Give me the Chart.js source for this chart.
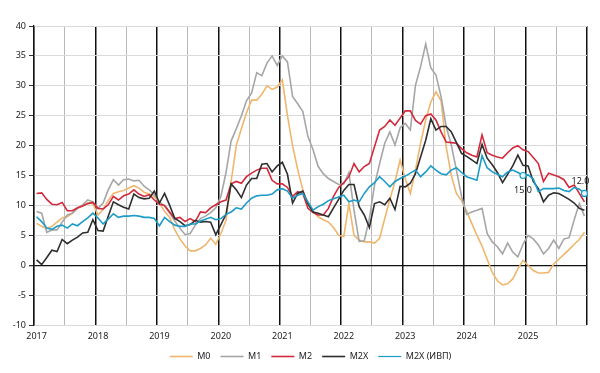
<!DOCTYPE html>
<html>
<head>
<meta charset="utf-8">
<script src="https://cdn.jsdelivr.net/npm/chart.js@4"></script>
<style>
  html, body { margin: 0; padding: 0; background: #fff; }
  #wrap { width: 600px; height: 373px; }
</style>
</head>
<body>
<div id="wrap"><canvas id="chart"></canvas></div>
<script>
// Monthly series, Jan 2017 - Dec 2025, % y/y
const years = [2017, 2018, 2019, 2020, 2021, 2022, 2023, 2024, 2025];
const yTicks = [-10, -5, 0, 5, 10, 15, 20, 25, 30, 35, 40];

const m0 = [
    7.0, 6.5, 6.1, 6.5, 7.2, 7.9, 8.1, 8.7, 9.5, 9.9, 10.4, 10.3,
    8.4, 9.3, 10.8, 12.0, 12.3, 12.5, 12.9, 13.3, 12.9, 12.2, 11.9, 11.5,
    10.3, 9.0, 8.0, 5.9, 4.4, 3.2, 2.4, 2.4, 2.8, 3.4, 4.5, 3.5,
    5.3, 7.5, 14.0, 20.0, 22.8, 25.5, 27.6, 27.6, 28.6, 30.0, 29.4, 29.8,
    31.0, 25.0, 20.0, 16.0, 12.6, 10.0, 9.0, 8.1, 7.6, 7.2, 6.3, 5.0,
    4.8, 10.3, 5.0, 4.2, 3.9, 3.9, 3.7, 4.5, 7.8, 11.0, 14.0, 17.6,
    14.5, 12.0, 15.9, 20.4, 24.3, 27.3, 29.0, 27.5, 19.8, 15.0, 12.0, 10.8,
    9.0, 7.0, 5.0, 3.2, 1.0, -1.2, -2.6, -3.3, -3.1, -2.3, -0.6, 0.8,
    0.0, -0.9, -1.3, -1.3, -1.2, 0.2, 1.0, 1.8, 2.6, 3.5, 4.3, 5.5,
];
const m1 = [
    9.0, 8.7, 5.5, 5.9, 5.9, 7.2, 8.4, 8.7, 9.5, 10.1, 10.9, 10.6,
    9.5, 10.4, 12.6, 14.3, 13.4, 14.3, 14.4, 14.1, 14.2, 13.2, 12.6, 11.8,
    10.6, 9.9, 8.7, 7.4, 6.2, 5.1, 5.3, 6.7, 7.8, 8.2, 8.8, 9.6,
    11.5, 15.5, 20.8, 22.8, 25.0, 27.5, 28.8, 32.2, 31.7, 33.8, 35.0, 33.4,
    35.0, 34.0, 28.2, 27.0, 25.7, 21.5, 19.3, 16.5, 15.3, 14.5, 14.0, 13.5,
    13.6, 15.5, 9.2, 4.0, 4.1, 7.8, 13.4, 17.0, 20.4, 22.3, 20.1, 23.0,
    23.7, 22.6, 30.1, 33.2, 37.0, 33.0, 31.8, 28.2, 23.2, 20.1, 15.9, 11.5,
    8.5, 8.9, 9.2, 9.5, 5.3, 3.9, 3.1, 1.9, 3.7, 2.2, 1.4, 3.5,
    5.0, 4.4, 3.4, 1.9, 2.8, 4.2, 2.8, 4.4, 4.6, 7.6, 10.3, 8.2,
];
const m2 = [
    12.0, 12.1, 11.0, 10.2, 10.1, 10.5, 9.1, 9.1, 9.6, 9.9, 10.3, 10.5,
    9.5, 9.4, 10.1, 11.5, 10.9, 11.6, 11.9, 12.6, 11.9, 11.5, 11.8, 10.9,
    10.2, 10.0, 8.9, 7.8, 8.0, 7.3, 7.8, 7.3, 8.9, 8.8, 9.6, 10.1,
    10.6, 10.9, 13.6, 14.0, 13.7, 14.8, 15.4, 15.9, 16.2, 16.2, 14.2, 13.6,
    13.6, 13.0, 11.5, 12.3, 12.0, 9.5, 8.8, 8.4, 8.4, 9.5, 11.5, 13.0,
    13.8, 14.8, 17.0, 15.6, 16.5, 17.0, 19.8, 22.6, 23.2, 24.3, 23.4, 24.6,
    25.8, 25.8, 24.2, 23.6, 25.0, 25.3, 24.3, 22.3, 20.6, 20.5, 20.4, 19.5,
    18.8, 18.4, 18.1, 21.8, 18.8, 18.4, 18.1, 17.9, 18.8, 19.6, 20.0, 19.3,
    19.0, 18.0, 17.0, 14.0, 15.4, 15.1, 14.8, 14.3, 13.0, 13.4, 12.0, 10.6,
];
const m2x = [
    0.9, 0.1, 1.3, 2.5, 2.3, 4.3, 3.6, 4.2, 4.7, 5.4, 5.5, 7.6,
    5.8, 5.7, 8.2, 10.6, 10.1, 9.7, 9.4, 11.9, 11.3, 11.1, 11.2, 12.4,
    10.4, 12.0, 10.0, 7.8, 7.3, 6.6, 6.8, 7.5, 7.2, 7.3, 7.2, 5.1,
    6.8, 8.5, 13.6, 12.6, 11.3, 13.4, 14.5, 14.5, 16.9, 17.0, 15.6, 16.6,
    17.2, 15.2, 10.4, 12.0, 12.4, 10.3, 8.9, 8.7, 8.4, 8.1, 9.6, 11.0,
    12.5, 13.5, 13.5, 9.8, 8.4, 6.3, 10.3, 10.6, 10.1, 11.2, 9.3, 13.2,
    13.1, 13.7, 15.3, 18.1, 20.9, 24.5, 22.6, 23.2, 23.2, 22.3, 20.5, 18.7,
    18.2, 17.6, 17.0, 20.2, 17.9, 16.8, 15.5, 13.8, 15.2, 16.6, 18.4, 16.7,
    16.6, 14.0, 12.8, 10.6, 11.7, 12.1, 12.0, 11.5, 11.0, 10.4, 9.5, 9.2,
];
const m2xIvp = [
    8.1, 7.3, 6.2, 6.0, 6.5, 6.7, 6.2, 6.9, 6.6, 7.3, 7.9, 8.7,
    7.9, 6.9, 7.7, 8.6, 8.0, 8.2, 8.2, 8.3, 8.2, 8.0, 8.0, 7.8,
    6.6, 8.0, 7.3, 6.7, 6.5, 6.5, 6.9, 6.9, 7.4, 7.7, 8.0, 7.6,
    7.8, 8.5, 8.9, 9.6, 9.4, 10.4, 11.2, 11.6, 11.7, 11.7, 11.9, 12.6,
    12.8, 12.4, 11.2, 11.7, 12.0, 10.6, 9.2, 9.8, 10.2, 10.8, 11.1, 11.4,
    11.7, 10.6, 10.9, 10.6, 12.0, 13.1, 13.8, 14.8, 14.0, 13.1, 14.0, 14.5,
    14.9, 15.4, 15.9, 14.8, 15.6, 16.6, 15.9, 15.3, 15.1, 15.9, 16.3, 15.5,
    14.8, 14.5, 14.2, 18.3, 16.3, 15.6, 15.2, 14.8, 15.6, 15.9, 15.5, 15.0,
    15.1, 14.4, 12.3, 12.8, 12.8, 12.8, 12.9, 12.5, 12.3, 13.0, 12.7, 12.0,
];
// points of M2X (ИВП) that carry a value label
const markedIdx = [95, 107];

const months = [];
years.forEach(y => {
    for (let m = 1; m <= 12; m++) months.push(y + "-" + String(m).padStart(2, "0"));
});

const FONT = "'Noto Sans', sans-serif";

// value labels next to the marked points
const markLabels = {
    id: "markLabels",
    afterDatasetsDraw(chart) {
        const meta = chart.getDatasetMeta(4);
        const ctx = chart.ctx;
        ctx.save();
        ctx.font = "9px " + FONT;
        ctx.fillStyle = "#222";
        ctx.textAlign = "center";
        ctx.textBaseline = "middle";
        markedIdx.forEach((idx, k) => {
            const pt = meta.data[idx];
            const dy = k === 0 ? 15 : -12;
            const dx = k === 0 ? 0 : -4;
            ctx.fillText(m2xIvp[idx].toFixed(1), pt.x + dx, pt.y + dy);
        });
        ctx.restore();
    },
};

function line(label, data, color, order) {
    return {
        label,
        data,
        borderColor: color,
        backgroundColor: color,
        borderWidth: 1.6,
        pointRadius: 0,
        tension: 0,
        order,
    };
}

const ivp = line("M2X (ИВП)", m2xIvp, "#1c9cc6", 0);
ivp.pointRadius = ctx => markedIdx.includes(ctx.dataIndex) ? 3 : 0;
ivp.pointBackgroundColor = "#eaf6fb";
ivp.pointBorderColor = "#1c9cc6";
ivp.pointBorderWidth = 1.2;

new Chart(document.getElementById("chart"), {
    type: "line",
    data: {
        labels: months,
        datasets: [
            line("M0", m0, "#f0b66e", 4),
            line("M1", m1, "#a6a6a6", 3),
            line("M2", m2, "#d22a3c", 2),
            line("M2X", m2x, "#2e2e2e", 1),
            ivp,
        ],
    },
    options: {
        responsive: true,
        maintainAspectRatio: false,
        animation: false,
        layout: { padding: { top: 26, right: 13, left: 0, bottom: 2 } },
        plugins: {
            tooltip: { enabled: false },
            legend: {
                position: "bottom",
                fullSize: false,
                labels: {
                    usePointStyle: true,
                    pointStyle: "line",
                    pointStyleWidth: 23,
                    padding: 10,
                    color: "#222",
                    font: { family: FONT, size: 9 },
                    sort: (a, b) => a.datasetIndex - b.datasetIndex,
                },
            },
        },
        scales: {
            x: {
                offset: true,
                afterFit: scale => { scale.height = 17; },
                border: { display: false },
                grid: {
                    offset: true,
                    drawTicks: false,
                    color: ctx => {
                        if (ctx.index === undefined || ctx.index % 12 === 0) return "#111";
                        if (ctx.index % 12 === 6) return "#b8b8b8";
                        return "rgba(0,0,0,0)";
                    },
                    lineWidth: ctx => (ctx.index === undefined || ctx.index % 12 === 0) ? 1.5 : 1,
                },
                ticks: {
                    autoSkip: false,
                    maxRotation: 0,
                    padding: 6,
                    color: "#222",
                    font: { family: FONT, size: 9 },
                    callback: (val, idx) => idx % 12 === 0 ? years[idx / 12] : "",
                },
            },
            y: {
                min: yTicks[0],
                max: yTicks[yTicks.length - 1],
                afterFit: scale => { scale.width = 34; },
                afterBuildTicks: scale => { scale.ticks = yTicks.map(v => ({ value: v })); },
                border: { color: "#111", width: 1.3 },
                grid: {
                    color: ctx => ctx.tick && ctx.tick.value === 0 ? "#111" : "#dadada",
                    lineWidth: ctx => ctx.tick && ctx.tick.value === 0 ? 1.3 : 1,
                    tickColor: "#333",
                    tickLength: 5,
                },
                ticks: {
                    padding: 3,
                    color: "#222",
                    font: { family: FONT, size: 9 },
                },
            },
        },
    },
    plugins: [markLabels],
});
</script>
</body>
</html>
